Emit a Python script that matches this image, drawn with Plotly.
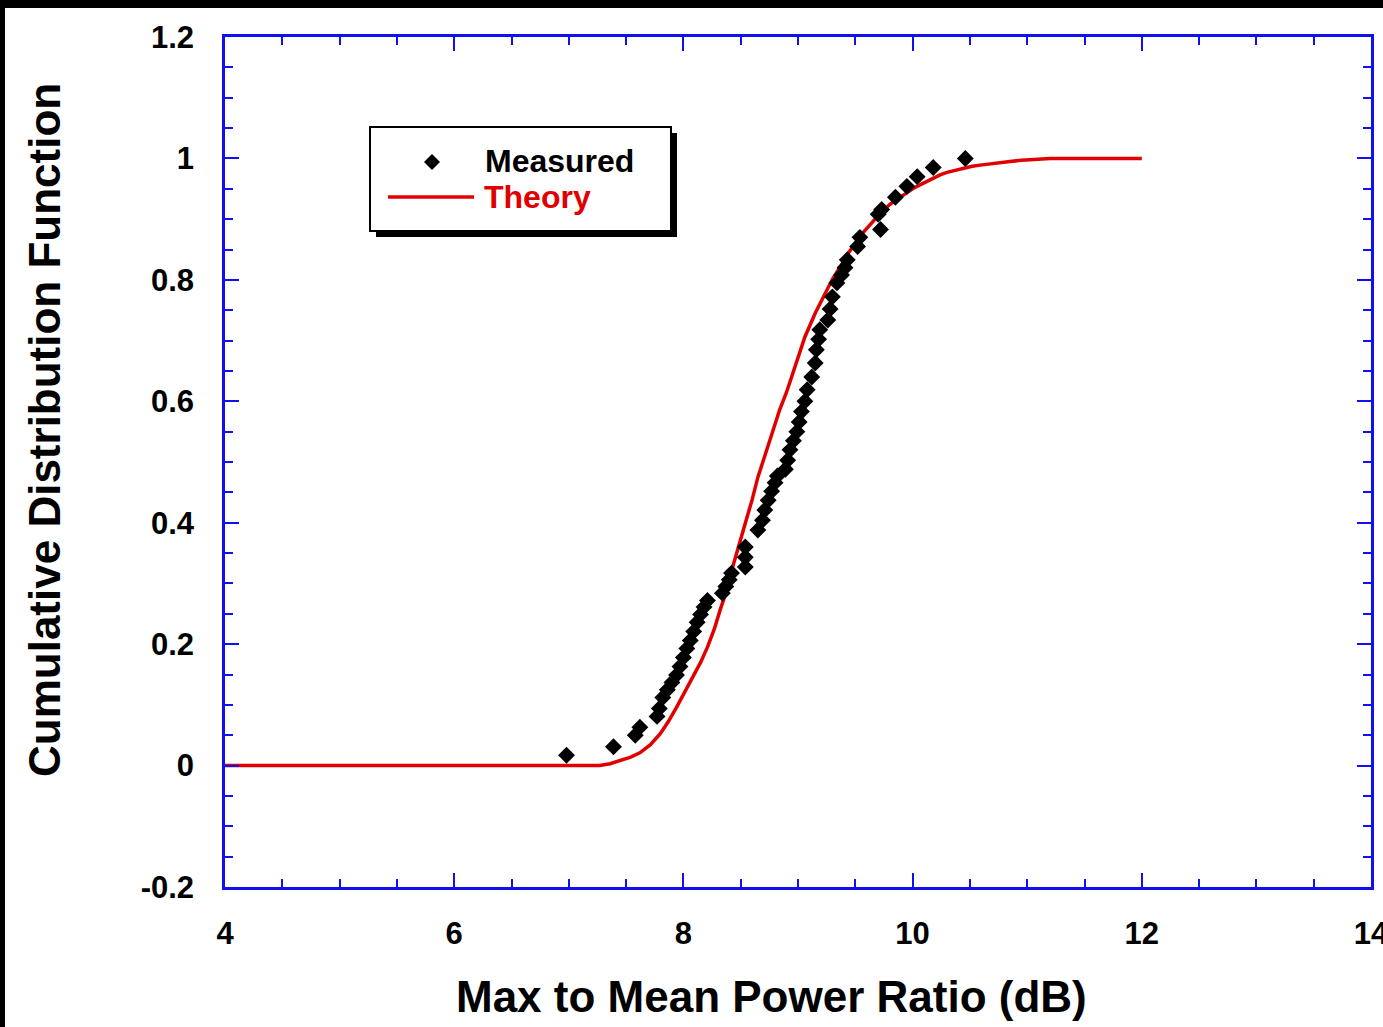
import plotly.graph_objects as go

# ---- data ----
measured_x = [6.98, 7.39, 7.58, 7.62, 7.77, 7.79, 7.82, 7.86, 7.90, 7.94, 7.97, 8.00, 8.03, 8.06,
              8.09, 8.12, 8.15, 8.18, 8.21, 8.34, 8.37, 8.40, 8.42, 8.54, 8.54, 8.54, 8.65, 8.69,
              8.71, 8.74, 8.77, 8.80, 8.82, 8.89, 8.91, 8.93, 8.96, 8.99, 9.01, 9.03, 9.06, 9.08,
              9.12, 9.15, 9.16, 9.18, 9.19, 9.26, 9.28, 9.30, 9.34, 9.38, 9.41, 9.43, 9.52, 9.54,
              9.72, 9.70, 9.73, 9.85, 9.95, 10.04, 10.18, 10.46]
measured_y = [0.017, 0.031, 0.050, 0.063, 0.081, 0.094, 0.112, 0.125, 0.137, 0.149, 0.163, 0.178,
              0.193, 0.206, 0.221, 0.236, 0.249, 0.261, 0.272, 0.284, 0.295, 0.306, 0.317, 0.327,
              0.343, 0.360, 0.388, 0.404, 0.421, 0.437, 0.452, 0.466, 0.477, 0.488, 0.503, 0.520,
              0.535, 0.550, 0.566, 0.583, 0.600, 0.619, 0.640, 0.663, 0.685, 0.702, 0.718, 0.734,
              0.752, 0.772, 0.795, 0.808, 0.820, 0.833, 0.855, 0.870, 0.883, 0.908, 0.916, 0.936,
              0.954, 0.970, 0.985, 1.0]

theory_x = [4.0, 7.27, 7.36, 7.45, 7.54, 7.62, 7.71, 7.80, 7.87, 7.94, 8.01, 8.08, 8.15, 8.21,
            8.27, 8.32, 8.37, 8.43, 8.48, 8.54, 8.60, 8.65, 8.71, 8.76, 8.84, 8.90, 8.98, 9.06,
            9.15, 9.24, 9.30, 9.37, 9.43, 9.50, 9.56, 9.63, 9.71, 9.80, 9.87, 9.94, 10.00, 10.06,
            10.12, 10.18, 10.24, 10.30, 10.38, 10.45, 10.52, 10.59, 10.66, 10.74, 10.85, 10.95,
            11.07, 11.2, 12.0]
theory_y = [0.0, 0.0, 0.003, 0.008, 0.014, 0.021, 0.034, 0.053, 0.073, 0.096, 0.120, 0.145, 0.170,
            0.195, 0.225, 0.256, 0.284, 0.327, 0.362, 0.399, 0.438, 0.475, 0.510, 0.541, 0.586,
            0.615, 0.662, 0.706, 0.745, 0.779, 0.801, 0.822, 0.842, 0.860, 0.876, 0.891, 0.908,
            0.924, 0.934, 0.942, 0.950, 0.956, 0.962, 0.968, 0.973, 0.977, 0.981, 0.984, 0.987,
            0.989, 0.991, 0.993, 0.995, 0.997, 0.999, 1.0, 1.0]

x_tickvals = [4, 6, 8, 10, 12, 14]
x_ticktext = ["4", "6", "8", "10", "12", "14"]
y_tickvals = [-0.2, 0, 0.2, 0.4, 0.6, 0.8, 1.0, 1.2]
y_ticktext = ["-0.2", "0", "0.2", "0.4", "0.6", "0.8", "1", "1.2"]

x_title = "Max to Mean Power Ratio (dB)"
y_title = "Cumulative Distribution Function"
legend_names = ["Measured", "Theory"]

# ---- layout constants (pixels) ----
W, H = 1383, 1027
L, R, T, B = 225, 12, 37, 140
PW, PH = W - L - R, H - T - B
BLUE = "#1010f0"
RED = "#e00000"
FONT = "Liberation Sans"


def px(xp):
    return (xp - L) / PW


def py(yp):
    return (H - B - yp) / PH


fig = go.Figure()
fig.add_trace(go.Scatter(x=theory_x, y=theory_y, mode="lines", name=legend_names[1],
                         line=dict(color=RED, width=3.5), showlegend=False))
fig.add_trace(go.Scatter(x=measured_x, y=measured_y, mode="markers", name=legend_names[0],
                         marker=dict(symbol="diamond", size=13, color="black",
                                     line=dict(width=0)), showlegend=False))

axis_common = dict(showgrid=False, zeroline=False, showline=True, linecolor=BLUE, linewidth=2.5,
                   mirror="allticks", ticks="inside", tickcolor=BLUE, tickwidth=2,
                   ticklen=14, ticklabeloverflow="allow",
                   tickfont=dict(family=FONT, size=31, color="black", weight="bold"))

fig.update_xaxes(range=[4, 14], tickmode="array", tickvals=x_tickvals, ticktext=x_ticktext,
                 ticklabelstandoff=17,
                 minor=dict(dtick=0.5, ticks="inside", ticklen=8, tickcolor=BLUE, tickwidth=2),
                 **axis_common)
fig.update_yaxes(range=[-0.2, 1.2], tickmode="array", tickvals=y_tickvals, ticktext=y_ticktext,
                 ticklabelstandoff=22,
                 minor=dict(dtick=0.05, tick0=0, ticks="inside", ticklen=8, tickcolor=BLUE,
                            tickwidth=2),
                 **axis_common)

shapes = [
    # black frame bands (top and left)
    dict(type="rect", xref="paper", yref="paper", x0=px(-10), x1=px(W + 10), y0=py(8), y1=py(-10),
         fillcolor="black", line=dict(width=0), layer="below"),
    dict(type="rect", xref="paper", yref="paper", x0=px(-10), x1=px(5), y0=py(H + 10), y1=py(-10),
         fillcolor="black", line=dict(width=0), layer="below"),
    # legend shadow
    dict(type="rect", xref="paper", yref="paper", x0=px(376), x1=px(677), y0=py(237), y1=py(133),
         fillcolor="black", line=dict(width=0)),
    # legend box
    dict(type="rect", xref="paper", yref="paper", x0=px(370), x1=px(671), y0=py(231), y1=py(127),
         fillcolor="white", line=dict(color="black", width=2)),
    # legend line sample
    dict(type="line", xref="paper", yref="paper", x0=px(388), x1=px(474), y0=py(197), y1=py(197),
         line=dict(color=RED, width=3.5)),
    # legend diamond sample
    dict(type="path", xref="paper", yref="paper",
         path="M {a},{b} L {c},{d} L {a},{e} L {f},{d} Z".format(
             a=px(432), b=py(154), c=px(440), d=py(162), e=py(170), f=px(424)),
         fillcolor="black", line=dict(width=0)),
]

annotations = [
    dict(text=legend_names[0], x=px(483), y=py(161), xref="paper", yref="paper",
         xanchor="left", yanchor="middle", showarrow=False,
         font=dict(family=FONT, size=32, color="black", weight="bold")),
    dict(text=legend_names[1], x=px(482), y=py(197), xref="paper", yref="paper",
         xanchor="left", yanchor="middle", showarrow=False,
         font=dict(family=FONT, size=32, color=RED, weight="bold")),
    dict(text=x_title, x=px(771), y=py(996), xref="paper", yref="paper",
         xanchor="center", yanchor="middle", showarrow=False,
         font=dict(family=FONT, size=44, color="black", weight="bold")),
    dict(text=y_title, x=px(44), y=py(430), xref="paper", yref="paper", textangle=-90,
         xanchor="center", yanchor="middle", showarrow=False,
         font=dict(family=FONT, size=44, color="black", weight="bold")),
]

fig.update_layout(width=W, height=H, margin=dict(l=L, r=R, t=T, b=B, autoexpand=False),
                  paper_bgcolor="white", plot_bgcolor="white", showlegend=False,
                  shapes=shapes, annotations=annotations)

fig.write_html("out.html", config={"displayModeBar": False},
               post_script="document.body.style.margin='0px';document.body.style.overflow='hidden';")
